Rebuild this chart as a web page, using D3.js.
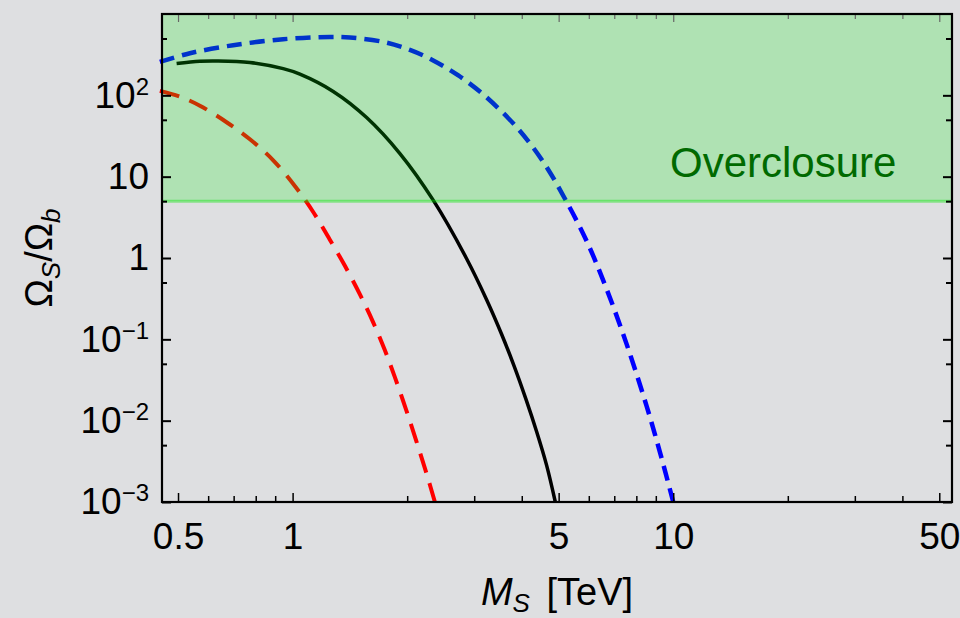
<!DOCTYPE html>
<html>
<head>
<meta charset="utf-8">
<script src="https://cdn.jsdelivr.net/npm/d3@7"></script>
<style>
  body { margin: 0; background: #dedfe1; }
  text { font-family: "Liberation Sans", Arial, sans-serif; }
</style>
</head>
<body>
<svg id="chart"></svg>
<script>
// tick values and labels
const xMajor = [0.5, 1, 5, 10, 50];
const xMinor = [0.6, 0.7, 0.8, 0.9, 2, 3, 4, 6, 7, 8, 9, 20, 30, 40];
const xLabels = ["0.5", "1", "5", "10", "50"];
const yMajor = [1e-3, 1e-2, 1e-1, 1, 10, 100];
const yMinor = [5e-3, 5e-2, 0.5, 5, 50, 500];
const yLabels = [["10", "\u22123"], ["10", "\u22122"], ["10", "\u22121"], ["1", ""], ["10", ""], ["10", "2"]];
const overclosure = 5;

// red dashed curve
const redM = [0.448, 0.5057, 0.5707, 0.6708, 0.7724, 0.8893, 1.0183, 1.1327, 1.2478, 1.3721, 1.5026, 1.6281, 1.7477, 1.8572, 1.9855, 2.118, 2.2492, 2.365];
const redOmega = [113.3, 96.1, 74.5, 46.7, 28.84, 15.91, 7.47, 3.68, 1.732, 0.8017, 0.3578, 0.1618, 0.07321, 0.03408, 0.01377, 0.005454, 0.002229, 0.001];

// black solid curve
const blackM = [0.4957, 0.5707, 0.6315, 0.7724, 0.9447, 1.0452, 1.2785, 1.5646, 1.914, 2.341, 2.8656, 3.2338, 3.5409, 3.8218, 4.102, 4.3773, 4.6494, 4.9];
const blackOmega = [246.1, 262.7, 265.0, 253.9, 213.0, 182.3, 111.7, 53.33, 19.24, 5.14, 0.9804, 0.3069, 0.1155, 0.04655, 0.01839, 0.007302, 0.00282, 0.001];

// blue dashed curve
const blueM = [0.448, 0.5373, 0.6982, 0.9447, 1.2531, 1.4149, 1.73, 2.0331, 2.341, 2.7188, 3.1681, 3.877, 4.5532, 5.1938, 5.9236, 6.6834, 7.5436, 8.5138, 9.2257, 10.0];
const blueOmega = [257.6, 329.5, 413.3, 489.8, 522.7, 514.0, 453.8, 361.7, 268.8, 176.7, 102.6, 40.63, 15.25, 5.348, 1.614, 0.4145, 0.0873, 0.01508, 0.00411, 0.001];

const width = 960;
const height = 618;
const pLeft = 162, pRight = 952, pTop = 14, pBottom = 502;

const svg = d3.select("#chart").attr("width", width).attr("height", height);

const x = d3.scaleLog().domain([0.4538, 54]).range([pLeft, pRight]);
const y = d3.scaleLog().domain([1e-3, 1e3]).range([pBottom, pTop]);

const line = d3.line()
  .x((d) => x(d[0]))
  .y((d) => y(d[1]))
  .curve(d3.curveCatmullRom.alpha(0.5));

const series = [
  { m: redM, o: redOmega, color: "#ff0000", w: 4, dash: "20,11" },
  { m: blackM, o: blackOmega, color: "#000000", w: 3.5, dash: null },
  { m: blueM, o: blueOmega, color: "#0000ff", w: 4.5, dash: "15,8" },
];

series.forEach((s) => {
  svg.append("path")
    .attr("d", line(s.m.map((m, i) => [m, s.o[i]])))
    .attr("fill", "none")
    .attr("stroke", s.color)
    .attr("stroke-width", s.w)
    .attr("stroke-dasharray", s.dash);
});

// overclosure region drawn over the curves
svg.append("rect")
  .attr("x", pLeft)
  .attr("y", pTop)
  .attr("width", pRight - pLeft)
  .attr("height", y(overclosure) - pTop)
  .attr("fill", "rgb(0,240,10)")
  .attr("fill-opacity", 0.21);

svg.append("line")
  .attr("x1", pLeft)
  .attr("x2", pRight)
  .attr("y1", y(overclosure))
  .attr("y2", y(overclosure))
  .attr("stroke", "rgb(0,230,0)")
  .attr("stroke-opacity", 0.4)
  .attr("stroke-width", 3);

svg.append("text")
  .attr("x", 670)
  .attr("y", 177)
  .attr("font-size", 42)
  .attr("fill", "#006a00")
  .text("Overclosure");

// axes
const styleAxis = (g, color, w) => {
  g.select(".domain").remove();
  g.selectAll(".tick line").attr("stroke", color).attr("stroke-width", w);
};

svg.append("g")
  .attr("transform", `translate(0,${pBottom})`)
  .call(d3.axisBottom(x).tickValues(xMinor).tickSize(-6).tickFormat(""))
  .call((g) => styleAxis(g, "#000", 1.5));

const xAxis = svg.append("g")
  .attr("transform", `translate(0,${pBottom})`)
  .call(d3.axisBottom(x).tickValues(xMajor).tickSize(-9).tickPadding(21)
    .tickFormat((d, i) => xLabels[i]))
  .call((g) => styleAxis(g, "#000", 1.5));
xAxis.selectAll(".tick text").attr("font-size", 37).attr("fill", "#000")
  .attr("font-family", "Liberation Sans, Arial, sans-serif");

svg.append("g")
  .attr("transform", `translate(0,${pTop})`)
  .call(d3.axisTop(x).tickValues(xMinor).tickSize(-5).tickFormat(""))
  .call((g) => styleAxis(g, "#666", 1.2));
svg.append("g")
  .attr("transform", `translate(0,${pTop})`)
  .call(d3.axisTop(x).tickValues(xMajor).tickSize(-8).tickFormat(""))
  .call((g) => styleAxis(g, "#666", 1.2));

svg.append("g")
  .attr("transform", `translate(${pLeft},0)`)
  .call(d3.axisLeft(y).tickValues(yMinor).tickSize(-5).tickFormat(""))
  .call((g) => styleAxis(g, "#000", 2));

const yAxis = svg.append("g")
  .attr("transform", `translate(${pLeft},0)`)
  .call(d3.axisLeft(y).tickValues(yMajor).tickSize(-9).tickPadding(13))
  .call((g) => styleAxis(g, "#000", 2));
yAxis.selectAll(".tick text").each(function (d, i) {
  const t = d3.select(this)
    .attr("font-size", 37)
    .attr("fill", "#000")
    .attr("font-family", "Liberation Sans, Arial, sans-serif")
    .text(null);
  const lab = yLabels[i];
  t.append("tspan").text(lab[0]);
  if (lab[1]) {
    t.append("tspan").attr("dy", "-13px").attr("font-size", 24).text(lab[1]);
  }
});

svg.append("g")
  .attr("transform", `translate(${pRight},0)`)
  .call(d3.axisRight(y).tickValues(yMinor).tickSize(-6).tickFormat(""))
  .call((g) => styleAxis(g, "#000", 2));
svg.append("g")
  .attr("transform", `translate(${pRight},0)`)
  .call(d3.axisRight(y).tickValues(yMajor).tickSize(-9).tickFormat(""))
  .call((g) => styleAxis(g, "#000", 2));

// frame
svg.append("rect")
  .attr("x", pLeft)
  .attr("y", pTop)
  .attr("width", pRight - pLeft)
  .attr("height", pBottom - pTop)
  .attr("fill", "none")
  .attr("stroke", "#000")
  .attr("stroke-width", 2.2);

// axis titles
const xt = svg.append("text")
  .attr("x", (pLeft + pRight) / 2)
  .attr("y", 605)
  .attr("text-anchor", "middle")
  .attr("font-size", 38)
  .attr("fill", "#000");
xt.append("tspan").attr("font-style", "italic").text("M");
xt.append("tspan").attr("font-style", "italic").attr("font-size", 26).attr("dy", 7).text("S");
xt.append("tspan").attr("dy", -7).attr("dx", 6).text(" [TeV]");

const yt = svg.append("text")
  .attr("transform", "translate(52,258) rotate(-90)")
  .attr("text-anchor", "middle")
  .attr("font-size", 38)
  .attr("fill", "#000");
yt.append("tspan").text("\u03A9");
yt.append("tspan").attr("font-style", "italic").attr("font-size", 26).attr("dy", 8).text("S");
yt.append("tspan").attr("dy", -8).text("/\u03A9");
yt.append("tspan").attr("font-style", "italic").attr("font-size", 26).attr("dy", 8).text("b");
</script>
</body>
</html>
